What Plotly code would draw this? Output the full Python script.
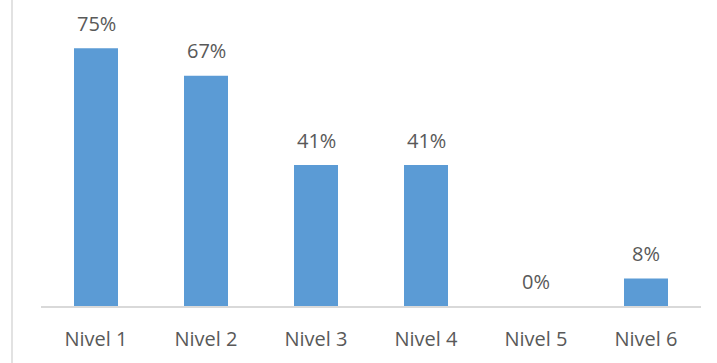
import plotly.graph_objects as go

niveles = ["Nivel 1", "Nivel 2", "Nivel 3", "Nivel 4", "Nivel 5", "Nivel 6"]
porcentajes = [75, 67, 41, 41, 0, 8]
etiquetas = ["75%", "67%", "41%", "41%", "0%", "8%"]

fuente = dict(family="Open Sans", size=20, color="#595959")

fig = go.Figure(
    go.Bar(
        x=niveles,
        y=porcentajes,
        marker=dict(color="#5b9bd5", line=dict(width=0)),
        hoverinfo="skip",
    )
)

# value labels above each bar
for nivel, valor, texto in zip(niveles, porcentajes, etiquetas):
    fig.add_annotation(
        x=nivel, y=valor, text=texto, showarrow=False,
        yanchor="middle", yshift=25,
        font=fuente,
    )

# thin frame line on the left edge
fig.add_shape(
    type="line", xref="paper", yref="paper",
    xsizemode="pixel", xanchor=0, x0=-29, x1=-29,
    y0=-1, y1=2,
    line=dict(color="#d9d9d9", width=1.5),
)

fig.update_layout(
    width=717, height=363,
    margin=dict(l=41, r=16, t=31, b=57),
    paper_bgcolor="white", plot_bgcolor="white",
    bargap=0.6,
    showlegend=False,
    xaxis=dict(
        showline=True, linecolor="#d9d9d9", linewidth=1.5,
        ticks="outside", ticklen=14, tickcolor="rgba(0,0,0,0)",
        tickfont=fuente,
        fixedrange=True,
    ),
    yaxis=dict(
        range=[0, 80], visible=False, showgrid=False, zeroline=False,
        fixedrange=True,
    ),
)

fig.write_html("out.html")
